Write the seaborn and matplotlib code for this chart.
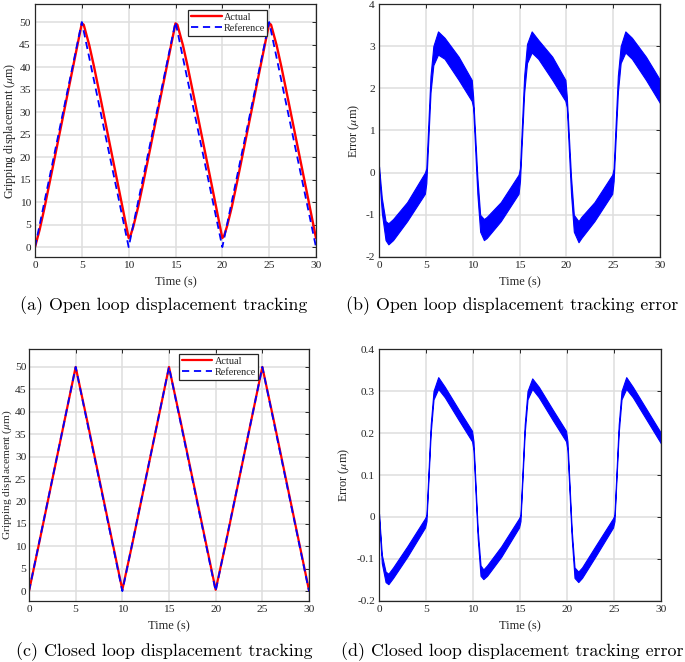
import numpy as np
import pandas as pd
import matplotlib
matplotlib.use('Agg')
import matplotlib.pyplot as plt
import seaborn as sns
from matplotlib.ticker import FuncFormatter

# ---- data ----
# reference triangle (both cases)
t_ref = [0, 5, 10, 15, 20, 25, 30]
y_ref = [0, 50, 0, 50, 0, 50, 0]

# open loop actual displacement (um)
t_open = [0, 0.5, 1, 2, 3, 4, 5, 5.2, 5.5, 5.8, 6.3, 7, 8, 9, 10, 10.2, 10.5, 11, 11.5, 12, 13, 14,
          15, 15.2, 15.5, 15.8, 16.3, 17, 18, 19, 20, 20.2, 20.5, 21, 21.5, 22, 23, 24,
          25, 25.2, 25.5, 25.8, 26.3, 27, 28, 29, 30]
y_open = [0, 3.9, 8.6, 18.8, 29.1, 39.4, 49.7, 49.4, 47.1, 44.8, 40.1, 33.0, 22.7, 12.4, 2.0, 2.6, 4.6, 8.8, 13.7, 18.8, 29.1, 39.4,
          49.7, 49.4, 47.1, 44.8, 40.1, 33.0, 22.7, 12.4, 2.0, 2.6, 4.6, 8.8, 13.7, 18.8, 29.1, 39.4,
          49.7, 49.4, 47.1, 44.8, 40.1, 33.0, 22.7, 12.4, 2.0]

# closed loop actual displacement (um)
t_closed = [0, 1, 5, 6.3, 10, 11, 15, 16.3, 20, 21, 25, 26.3, 30]
y_closed = [0, 9.86, 49.99, 37.32, 0.3, 9.87, 49.99, 37.32, 0.3, 9.86, 49.99, 37.32, 0.2]

# open loop error band (upper / lower envelope, um)
t_err_o = [0, 0.3, 0.7, 1.0, 1.5, 3, 4.9, 5.05, 5.5, 5.8, 6.3, 7, 8.5, 9.9, 10.05,
           10.5, 10.8, 11.2, 11.5, 13, 14.9, 15.05, 15.5, 15.8, 16.3, 17, 18.5, 19.9, 20.05,
           20.5, 20.8, 21.3, 21.6, 23, 24.9, 25.05, 25.5, 25.8, 26.3, 27, 28.5, 30]
up_err_o = [0.15, -0.6, -1.15, -1.2, -1.1, -0.7, 0.0, 0.1, 2.3, 3.0, 3.35, 3.2, 2.75, 2.2, 1.8,
            -0.1, -1.0, -1.1, -1.05, -0.7, -0.05, 0.1, 2.3, 3.05, 3.35, 3.15, 2.75, 2.2, 1.8,
            -0.1, -1.0, -1.15, -1.05, -0.7, -0.05, 0.1, 2.3, 3.0, 3.35, 3.2, 2.75, 2.2]
lo_err_o = [0.0, -0.95, -1.6, -1.7, -1.6, -1.15, -0.5, -0.25, 1.9, 2.55, 2.8, 2.7, 2.2, 1.7, 1.55,
            -0.5, -1.4, -1.6, -1.55, -1.15, -0.5, -0.2, 1.9, 2.6, 2.85, 2.7, 2.2, 1.7, 1.55,
            -0.5, -1.4, -1.65, -1.55, -1.15, -0.5, -0.2, 1.9, 2.6, 2.85, 2.7, 2.2, 1.65]

# closed loop error band (upper / lower envelope, um)
t_err_c = [0, 0.3, 0.7, 1.0, 1.5, 3, 4.9, 5.05, 5.5, 5.8, 6.3, 7, 8.5, 9.9, 10.05,
           10.5, 10.8, 11.1, 11.5, 13, 14.9, 15.05, 15.5, 15.8, 16.3, 17, 18.5, 19.9, 20.05,
           20.5, 20.8, 21.2, 21.6, 23, 24.9, 25.05, 25.5, 25.8, 26.3, 27, 28.5, 30]
up_err_c = [0.008, -0.09, -0.13, -0.135, -0.12, -0.07, -0.003, 0.005, 0.22, 0.3, 0.333, 0.31, 0.255, 0.205, 0.18,
            -0.03, -0.115, -0.125, -0.115, -0.07, -0.003, 0.005, 0.22, 0.3, 0.33, 0.31, 0.255, 0.205, 0.18,
            -0.03, -0.12, -0.13, -0.12, -0.07, -0.003, 0.005, 0.22, 0.3, 0.333, 0.31, 0.255, 0.2]
lo_err_c = [-0.002, -0.11, -0.155, -0.16, -0.145, -0.095, -0.025, -0.01, 0.2, 0.28, 0.305, 0.285, 0.23, 0.18, 0.16,
            -0.05, -0.14, -0.148, -0.14, -0.095, -0.025, -0.01, 0.2, 0.28, 0.305, 0.285, 0.23, 0.18, 0.16,
            -0.05, -0.145, -0.155, -0.145, -0.095, -0.025, -0.01, 0.2, 0.28, 0.305, 0.285, 0.23, 0.175]

captions = ['(a) Open loop displacement tracking',
            '(b) Open loop displacement tracking error',
            '(c) Closed loop displacement tracking',
            '(d) Closed loop displacement tracking error']

sns.set_theme(style='white')
plt.rcParams['font.family'] = ['Liberation Serif', 'DejaVu Serif']
plt.rcParams['mathtext.fontset'] = 'stix'
plt.rcParams['axes.unicode_minus'] = False

fig = plt.figure(figsize=(6.85, 6.62), dpi=100)
W, H = 685.0, 662.0

def box(l, t, r, b):
    return [l / W, 1 - b / H, (r - l) / W, (b - t) / H]

ax_a = fig.add_axes(box(35, 4, 316, 257))
ax_b = fig.add_axes(box(379, 4, 660, 257))
ax_c = fig.add_axes(box(29, 349, 309, 601))
ax_d = fig.add_axes(box(379, 349, 661, 601))

def style(ax, ylim, yticks, ylabel, ylab_x, ylab_size=8.8):
    ax.set_xlim(0, 30)
    ax.set_ylim(*ylim)
    ax.set_xticks(range(0, 31, 5))
    ax.set_yticks(yticks)
    ax.yaxis.set_major_formatter(FuncFormatter(lambda v, p: '%g' % round(v, 6)))
    ax.grid(True, color='#dedede', lw=1.1)
    ax.set_axisbelow(True)
    for s in ax.spines.values():
        s.set_color('#262626')
        s.set_linewidth(0.9)
    ax.tick_params(direction='in', length=3, width=0.7, colors='#262626', labelsize=8.2,
                   top=True, right=True, pad=3)
    for lbl in ax.get_xticklabels() + ax.get_yticklabels():
        lbl.set_color('#262626')
    ax.set_xlabel('Time (s)', fontsize=9, color='#262626')
    ax.set_ylabel(ylabel, fontsize=ylab_size, color='#262626')
    ax.xaxis.set_label_coords(0.5, -0.075)
    ax.yaxis.set_label_coords(ylab_x, 0.5)

disp_label = r'Gripping displacement ($\mu$m)'
err_label = r'Error ($\mu$m)'

# (a)
sns.lineplot(x=t_open, y=y_open, ax=ax_a, color='#ff0000', lw=1.7, label='Actual')
sns.lineplot(x=t_ref, y=y_ref, ax=ax_a, color='#0000ff', lw=1.3, label='Reference')
ax_a.lines[1].set_dashes((4, 2.6))
style(ax_a, (-2.2, 54), range(0, 51, 5), disp_label, -0.062, 8.6)

# (c)
sns.lineplot(x=t_closed, y=y_closed, ax=ax_c, color='#ff0000', lw=1.6, label='Actual')
sns.lineplot(x=t_ref, y=y_ref, ax=ax_c, color='#0000ff', lw=1.3, label='Reference')
ax_c.lines[1].set_dashes((4, 2.6))
style(ax_c, (-2.2, 54), range(0, 51, 5), disp_label, -0.053, 8.2)
ax_c.tick_params(axis='y', pad=2)

for ax, anchor in [(ax_a, (0.545, 0.976)), (ax_c, (0.536, 0.98))]:
    h, l = ax.get_legend_handles_labels()
    h[1].set_dashes((4, 2.6))
    leg = ax.legend(h, l, loc='upper left', bbox_to_anchor=anchor, fontsize=7.4,
                    frameon=True, fancybox=False, framealpha=1, edgecolor='#262626',
                    handlelength=3.0, handletextpad=0.2, borderpad=0.25, labelspacing=0.2,
                    borderaxespad=0)
    leg.get_frame().set_linewidth(0.9)

# (b)
ax_b.fill_between(t_err_o, lo_err_o, up_err_o, color='#0000ff', lw=0.8, edgecolor='#0000ff')
style(ax_b, (-2, 4), range(-2, 5, 1), err_label, -0.062)

# (d)
ax_d.fill_between(t_err_c, lo_err_c, up_err_c, color='#0000ff', lw=0.8, edgecolor='#0000ff')
style(ax_d, (-0.2, 0.4), np.arange(-0.2, 0.41, 0.1), err_label, -0.095)

cap_pos = [(164, 306), (512, 306), (164, 652), (512, 652)]
for (x, y), txt in zip(cap_pos, captions):
    fig.text(x / W, 1 - y / H, txt, ha='center', va='center', fontsize=12.9,
             family='cmr10', color='black')

plt.savefig('out.png', dpi=100)
